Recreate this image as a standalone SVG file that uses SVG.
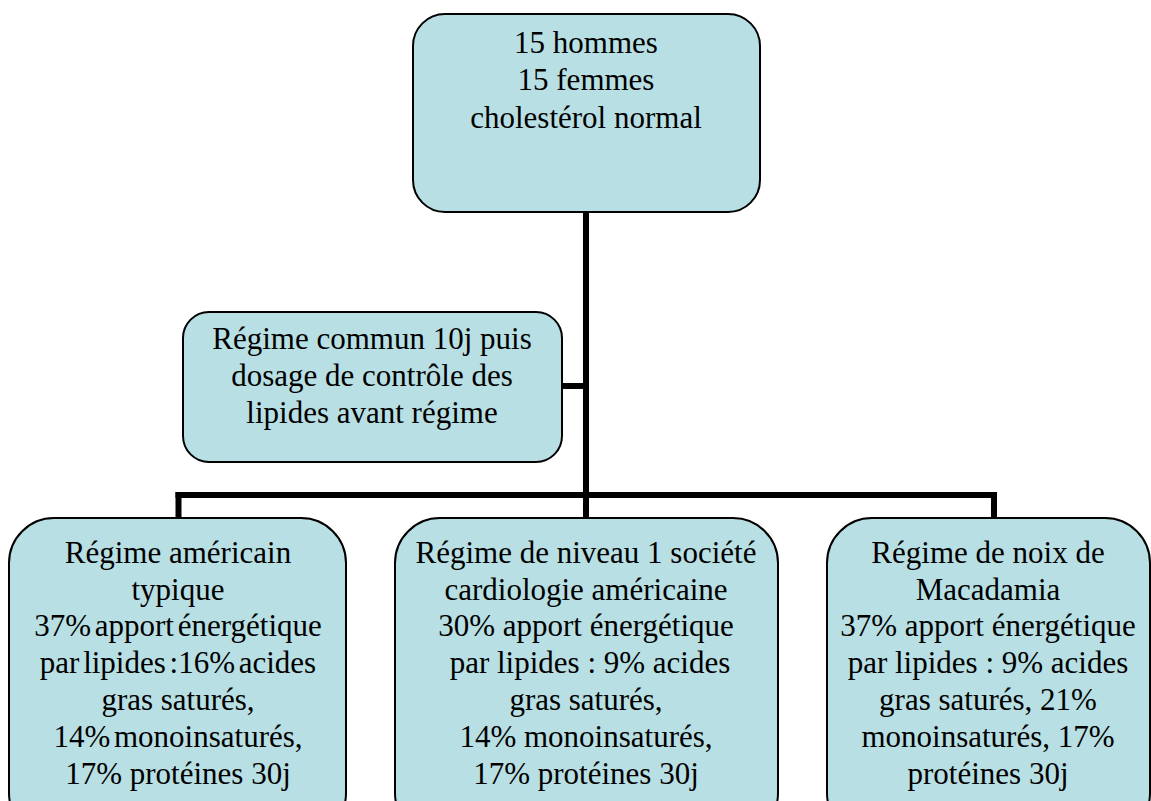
<svg xmlns="http://www.w3.org/2000/svg" width="1151" height="801" viewBox="0 0 1151 801" font-family="Liberation Serif, Times New Roman, DejaVu Serif, serif">
<style>
.box{fill:#b8dfe3;stroke:#000;stroke-width:2}
.t{font-size:31px;fill:#000;text-anchor:middle}
.c{stroke:#000;stroke-width:6;fill:none;stroke-linecap:square}
</style>
<rect width="1151" height="801" fill="#fff"/>
<g id="connectors">
<line class="c" x1="586" y1="212" x2="586" y2="495"/>
<line class="c" x1="563" y1="386" x2="586" y2="386"/>
<line class="c" x1="178.5" y1="495" x2="994" y2="495"/>
<line class="c" x1="178.5" y1="495" x2="178.5" y2="517"/>
<line class="c" x1="586" y1="495" x2="586" y2="517"/>
<line class="c" x1="994" y1="495" x2="994" y2="517"/>
</g>
<g id="top" font-family="Liberation Serif, serif">
<rect class="box" x="413" y="14" width="347" height="198" rx="32"/>
<text class="t" x="586" y="53">15 hommes</text>
<text class="t" x="586" y="90">15 femmes</text>
<text class="t" x="586" y="128">cholestérol normal</text>
</g>
<g id="common" font-family="Liberation Serif, serif">
<rect class="box" x="183" y="312" width="379" height="150" rx="26"/>
<text class="t" x="372" y="349">Régime commun 10j puis</text>
<text class="t" x="372" y="386">dosage de contrôle des</text>
<text class="t" x="372" y="423">lipides avant régime</text>
</g>
<g id="american" font-family="Liberation Serif, serif">
<rect class="box" x="9" y="518" width="337" height="320" rx="45"/>
<text class="t" x="178" y="563">Régime américain</text>
<text class="t" x="178" y="600">typique</text>
<text class="t" x="178" y="636" word-spacing="-4">37% apport énergétique</text>
<text class="t" x="178" y="673" word-spacing="-4">par lipides :16% acides</text>
<text class="t" x="178" y="710">gras saturés,</text>
<text class="t" x="178" y="747" word-spacing="-4">14% monoinsaturés,</text>
<text class="t" x="178" y="784">17% protéines 30j</text>
</g>
<g id="aha" font-family="Liberation Serif, serif">
<rect class="box" x="395" y="518" width="383" height="320" rx="45"/>
<text class="t" x="586" y="563">Régime de niveau 1 société</text>
<text class="t" x="586" y="600">cardiologie américaine</text>
<text class="t" x="586" y="636">30% apport énergétique</text>
<text class="t" x="590" y="673">par lipides : 9% acides</text>
<text class="t" x="586" y="710">gras saturés,</text>
<text class="t" x="586" y="747">14% monoinsaturés,</text>
<text class="t" x="586" y="784">17% protéines 30j</text>
</g>
<g id="macadamia" font-family="Liberation Serif, serif">
<rect class="box" x="827" y="518" width="323" height="320" rx="45"/>
<text class="t" x="988" y="563">Régime de noix de</text>
<text class="t" x="988" y="600">Macadamia</text>
<text class="t" x="988" y="636">37% apport énergétique</text>
<text class="t" x="988" y="673">par lipides : 9% acides</text>
<text class="t" x="988" y="710">gras saturés, 21%</text>
<text class="t" x="988" y="747">monoinsaturés, 17%</text>
<text class="t" x="988" y="784">protéines 30j</text>
</g>
</svg>
